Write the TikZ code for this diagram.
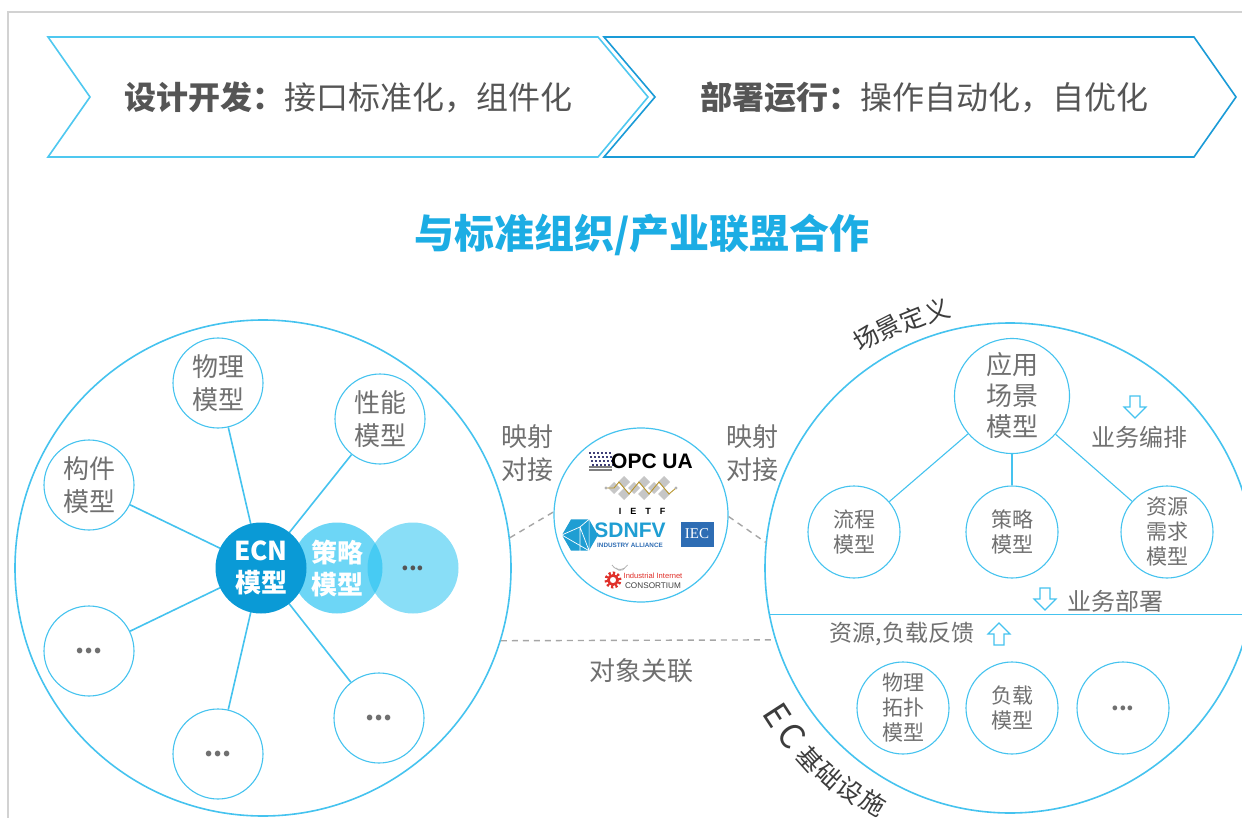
\documentclass[tikz,border=0pt]{standalone}
\usepackage{fontspec}
\setmainfont{Noto Sans CJK SC}
\newfontfamily\latinsans{Liberation Sans}
\newfontfamily\latinserif{Liberation Serif}
\usetikzlibrary{shapes.geometric}
\definecolor{lb}{HTML}{45C3EF}
\definecolor{chevA}{HTML}{4FC8F0}
\definecolor{chevB}{HTML}{1A9BD7}
\definecolor{tg}{HTML}{707070}
\definecolor{tdark}{HTML}{555555}
\definecolor{tblack}{HTML}{3C3C3C}
\definecolor{ttl}{HTML}{1CADE4}
\definecolor{ecnc}{HTML}{0A9AD6}
\definecolor{polc}{HTML}{29C3F2}
\definecolor{sdnc}{HTML}{1F9ED3}
\definecolor{iecc}{HTML}{2E6DB4}
\definecolor{iicred}{HTML}{E0302A}
\definecolor{ietfgold}{HTML}{B8962E}
\tikzset{
  bigc/.style={circle, draw=lb, line width=1.6pt, minimum size=#1, inner sep=0pt},
  smc/.style={circle, draw=lb, line width=1.1pt, fill=white, minimum size=90pt, inner sep=0pt,
     text=tg, align=center, font=\fontsize{26}{33}\selectfont},
  rsmc/.style={circle, draw=lb, line width=1.1pt, fill=white, minimum size=92pt, inner sep=0pt,
     text=tg, align=center, font=\fontsize{21}{25}\selectfont},
  conn/.style={draw=lb, line width=1.6pt},
  rconn/.style={draw=lb, line width=1.1pt},
  dashln/.style={draw=gray!70, line width=1.4pt, dash pattern=on 6pt off 5pt},
  lbl/.style={text=tg, align=center, inner sep=0pt},
  arcch/.style={text=tblack, inner sep=0pt, font=\fontsize{25}{25}\selectfont},
  harrow/.pic={\draw[lb, line width=1.1pt, fill=white] (-5,-11) -- (5,-11) -- (5,0) -- (11,0) -- (0,11) -- (-11,0) -- (-5,0) -- cycle;}
}
\begin{document}
\begin{tikzpicture}[x=1pt,y=-1pt]
\useasboundingbox (0,0) rectangle (1242,818);
\fill[white] (0,0) rectangle (1242,818);
% frame
\draw[gray!35, line width=1.2pt] (8,818) -- (8,12) -- (1242,12);
% chevrons
\draw[chevA, line width=1.6pt, fill=white] (48,37) -- (598,37) -- (648,97) -- (598,157) -- (48,157) -- (90,97) -- cycle;
\draw[chevB, line width=1.6pt, fill=white] (604,37) -- (1194,37) -- (1236,97) -- (1194,157) -- (604,157) -- (655,97) -- cycle;
\node[text=tdark, inner sep=0pt, font=\fontsize{32}{32}\selectfont] (c1) at (348,97) {\textbf{设计开发：}接口标准化，组件化};
\node[text=tdark, inner sep=0pt, font=\fontsize{32}{32}\selectfont] (c2) at (924,97) {\textbf{部署运行：}操作自动化，自优化};
% title
\node[text=ttl, inner sep=0pt, font=\bfseries\fontsize{40}{40}\selectfont] (title) at (642,235) {与标准组织/产业联盟合作};

% ---------- left circle ----------
\node[bigc=496pt] (L) at (263,568) {};
\coordinate (ecnc) at (261,568);
\node[smc] (phy) at (218,383) {物理\\模型};
\node[smc] (perf) at (380,419) {性能\\模型};
\node[smc] (comp) at (89,485) {构件\\模型};
\node[smc] (dl) at (89,651) {\textbf{...}};
\node[smc] (db) at (218,754) {\textbf{...}};
\node[smc] (dr) at (379,718) {\textbf{...}};
\foreach \t in {phy,perf,comp,dl,db,dr} \draw[conn] (ecnc) -- (\t);
\node[circle, minimum size=91pt, inner sep=0pt, fill=polc, fill opacity=0.55, text opacity=1, text=tdark,
  font=\fontsize{22}{22}\selectfont] (more) at (413,568) {\textbf{...}};
\node[circle, minimum size=91pt, inner sep=0pt, fill=polc, fill opacity=0.68, text opacity=1, text=white,
  align=center, font=\bfseries\fontsize{26}{32}\selectfont] (pol) at (337,568) {策略\\模型};
\node[circle, minimum size=91pt, inner sep=0pt, fill=ecnc, text=white, align=center,
  font=\bfseries\fontsize{26}{32}\selectfont] (ecn) at (261,568) {ECN\\模型};

% ---------- middle circle ----------
\node[circle, draw=lb, line width=1.2pt, minimum size=174pt, inner sep=0pt] (M) at (641,515) {};
\node[lbl, font=\fontsize{26}{33}\selectfont] (map1) at (527,453) {映射\\对接};
\node[lbl, font=\fontsize{26}{33}\selectfont] (map2) at (752,453) {映射\\对接};
\node[lbl, font=\fontsize{26}{26}\selectfont] (assoc) at (641,671) {对象关联};

% OPC UA logo
\foreach \i in {0,...,5} \foreach \j in {0,...,3}
  \fill[black!70!blue, opacity=0.75] (589+\i*4+\j,452+\j*4) rectangle +(2.4,2.4);
\foreach \j in {0,...,3} \draw[gray, line width=0.4pt] (589,466+\j*1.5) -- (612,466+\j*1.5);
\node[inner sep=0pt, font=\latinsans\bfseries\fontsize{21}{21}\selectfont] (opc) at (652,461) {OPC UA};
% IETF logo
\foreach \x/\y in {614/488,624/482,624/494,634/488,644/482,644/494,654/488,664/482,664/494}
  \fill[gray!45] (\x,\y-6) -- (\x+6,\y) -- (\x,\y+6) -- (\x-6,\y) -- cycle;
\draw[ietfgold, line width=0.9pt] (606,488) -- (614,488) -- (619,482) -- (629,494) -- (639,482) -- (649,494) -- (659,482) -- (669,494) -- (676,488);
\fill[gray!60] (606,488) circle (1.6pt);
\fill[gray!60] (676,488) circle (1.6pt);
\node[inner sep=0pt, font=\latinsans\bfseries\fontsize{9}{9}\selectfont] (ietf) at (642,511) {I\hspace{9pt}E\hspace{9pt}T\hspace{9pt}F};
% SDN/FV logo
\node[regular polygon, regular polygon sides=6, fill=sdnc, minimum size=36pt, inner sep=0pt] (ico) at (580,535) {};
\draw[white, line width=0.7pt] (ico.corner 1) -- (580,527) -- (ico.corner 3) (580,527) -- (ico.corner 5) -- (ico.corner 1)
  (ico.corner 3) -- (ico.corner 5) (580,527) -- (580,553);
\node[inner sep=0pt, text=sdnc, font=\latinsans\bfseries\fontsize{21}{21}\selectfont] (sdn) at (630,530) {SDNFV};
\node[inner sep=0pt, text=iecc, font=\latinsans\bfseries\fontsize{6.3}{6.3}\selectfont] (sdnia) at (630,545) {INDUSTRY ALLIANCE};
% IEC logo
\node[fill=iecc, text=white, minimum width=33pt, minimum height=25pt, inner sep=0pt,
  font=\latinserif\fontsize{15}{15}\selectfont] (iec) at (697,534) {IEC};
% IIC logo
\draw[iicred, line width=3pt, dash pattern=on 2.2pt off 2.2pt] (613,580) circle (7pt);
\draw[iicred, line width=2.6pt] (613,580) circle (4.6pt);
\draw[gray!60, line width=0.8pt] (616,568) arc (210:330:5pt);
\draw[gray!60, line width=0.8pt] (612,565) arc (210:330:9pt);
\node[inner sep=0pt, text=iicred, font=\latinsans\fontsize{7.6}{7.6}\selectfont] (iic1) at (653,576) {Industrial Internet};
\node[inner sep=0pt, text=black!75, font=\latinsans\fontsize{8.2}{8.2}\selectfont] (iic2) at (653,586) {CONSORTIUM};

% ---------- right circle ----------
\node[bigc=490pt] (R) at (1010,568) {};
\draw[rconn] (R.191) -- (R.-11);
\node[circle, draw=lb, line width=1.1pt, fill=white, minimum size=115pt, inner sep=0pt,
  text=tg, align=center, font=\fontsize{26}{31}\selectfont] (app) at (1012,396) {应用\\场景\\模型};
\node[rsmc] (flow) at (854,532) {流程\\模型};
\node[rsmc] (rpol) at (1012,532) {策略\\模型};
\node[rsmc] (res) at (1167,532) {资源\\需求\\模型};
\foreach \t in {flow,rpol,res} \draw[rconn] (app) -- (\t);
\node[rsmc] (topo) at (903,708) {物理\\拓扑\\模型};
\node[rsmc] (load) at (1012,708) {负载\\模型};
\node[rsmc, font=\fontsize{22}{22}\selectfont] (rmore) at (1123,708) {\textbf{...}};
\pic at (1135,407) {harrow};
\node[lbl, font=\fontsize{24}{24}\selectfont] (orch) at (1139,437) {业务编排};
\pic at (1045,599) {harrow};
\node[lbl, font=\fontsize{24}{24}\selectfont] (depl) at (1115,601) {业务部署};
\pic[rotate=180] at (999,634) {harrow};
\node[lbl, font=\fontsize{23}{23}\selectfont] (fb) at (902,634) {资源,负载反馈};
% curved labels, one character at a time along the big circle
\node[arcch, rotate=31] (sc1) at (866,338) {场};
\node[arcch, rotate=27] (sc2) at (889,328) {景};
\node[arcch, rotate=22] (sc3) at (913,319) {定};
\node[arcch, rotate=18] (sc4) at (937,311) {义};
\node[arcch, rotate=-57, font=\fontsize{34}{34}\selectfont] (ec1) at (777,715) {E};
\node[arcch, rotate=-53, font=\fontsize{34}{34}\selectfont] (ec2) at (792,736) {C};
\node[arcch, rotate=-48] (ec3) at (810,759) {基};
\node[arcch, rotate=-42] (ec4) at (829,776) {础};
\node[arcch, rotate=-36] (ec5) at (850,790) {设};
\node[arcch, rotate=-31] (ec6) at (873,803) {施};

% dashed connectors
\draw[dashln] (L.7) -- (M.178);
\draw[dashln] (M.-1) -- (R.174);
\draw[dashln] (L.-17.5) -- (R.197.5);
\end{tikzpicture}
\end{document}
